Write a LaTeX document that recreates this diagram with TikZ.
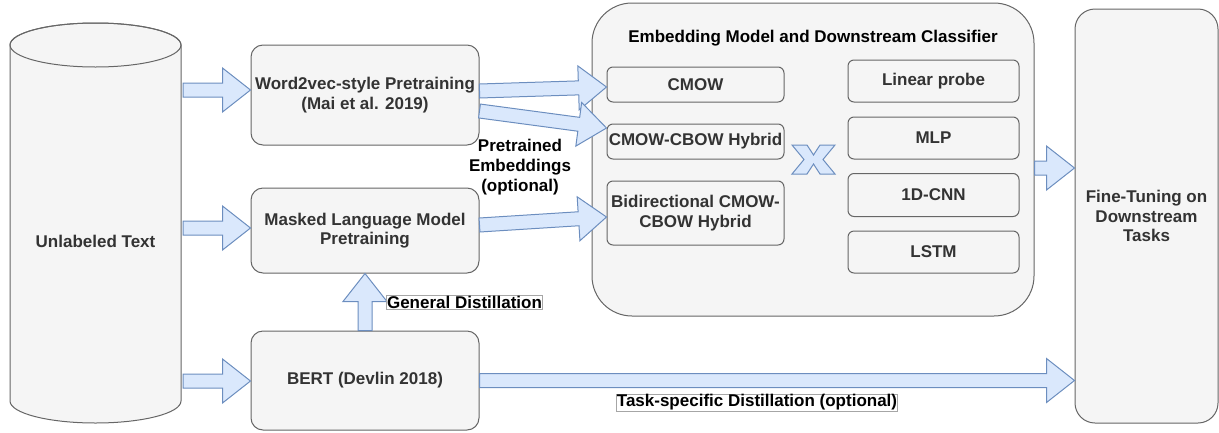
\documentclass[tikz,border=0pt]{standalone}
\usepackage{fontspec}
\setmainfont{Liberation Sans}
\usetikzlibrary{calc}
\definecolor{boxfill}{HTML}{F5F5F5}
\definecolor{boxline}{HTML}{666666}
\definecolor{boxtext}{HTML}{333333}
\definecolor{arrfill}{HTML}{DAE8FC}
\definecolor{arrline}{HTML}{6C8EBF}
\tikzset{
  box/.style={draw=boxline, fill=boxfill, line width=1pt, rounded corners=12pt, align=center,
    text=boxtext, font=\bfseries\fontsize{17}{19.5}\selectfont, inner sep=0pt},
  smallbox/.style={box, rounded corners=6pt},
  barrow/.style={draw=arrline, fill=arrfill, line width=1pt, line join=miter},
  lbl/.style={font=\bfseries\fontsize{17}{20}\selectfont, text=black, align=center, inner sep=1pt},
  lblbox/.style={lbl, draw=black!35, fill=white, line width=0.6pt, inner sep=0.5pt}
}
\newcommand\fatarrow[2]{%
  \draw[barrow] ($(#1)!7pt!90:(#2)$)
    -- ($(#2)!28pt!(#1)!7pt!-90:(#1)$)
    -- ($(#2)!28pt!(#1)!22pt!-90:(#1)$)
    -- (#2)
    -- ($(#2)!28pt!(#1)!22pt!90:(#1)$)
    -- ($(#2)!28pt!(#1)!7pt!90:(#1)$)
    -- ($(#1)!7pt!-90:(#2)$) -- cycle;}
\begin{document}
\begin{tikzpicture}[x=1pt, y=-1pt]
\useasboundingbox (0,0) rectangle (1219,432);
% cylinder
\filldraw[draw=boxline, fill=boxfill, line width=1pt]
  (10,45) -- (10,401) arc[start angle=180, end angle=360, x radius=85.5pt, y radius=22pt]
  -- (181,45) arc[start angle=0, end angle=180, x radius=85.5pt, y radius=22pt] -- cycle;
\draw[boxline, line width=1pt] (95.5,45) ellipse[x radius=85.5pt, y radius=22pt];
\node[lbl, text=boxtext] (ut) at (95.5,241) {Unlabeled Text};
% left column boxes
\node[box, minimum width=228pt, minimum height=100pt] (w2v) at (365,95)
  {Word2vec-style Pretraining\\(Mai et al. 2019)};
\node[box, minimum width=228pt, minimum height=85pt] (mlm) at (365,230.5)
  {Masked Language Model\\Pretraining};
\node[box, minimum width=228pt, minimum height=99pt] (bert) at (365,380.5)
  {BERT (Devlin 2018)};
% container
\node[box, rounded corners=40pt, minimum width=442pt, minimum height=313pt] (cont) at (813,159.5) {};
\node[lbl, text=black] (title) at (813,38) {Embedding Model and Downstream Classifier};
\node[smallbox, minimum width=177pt, minimum height=35pt] (cmow) at (695.5,84.5) {CMOW};
\node[smallbox, minimum width=177pt, minimum height=35pt] (hyb) at (695.5,141.5) {CMOW-CBOW Hybrid};
\node[smallbox, minimum width=177pt, minimum height=64pt] (bidir) at (695.5,213)
  {Bidirectional CMOW-\\CBOW Hybrid};
\node[smallbox, minimum width=171pt, minimum height=42pt] (lin) at (933.5,81) {Linear probe};
\node[smallbox, minimum width=171pt, minimum height=42pt] (mlp) at (933.5,138) {MLP};
\node[smallbox, minimum width=171pt, minimum height=43pt] (cnn) at (933.5,195) {1D-CNN};
\node[smallbox, minimum width=171pt, minimum height=42pt] (lstm) at (933.5,252) {LSTM};
% cross shape
\filldraw[draw=arrline, fill=arrfill, line width=1pt, shift={(792,145)}]
  (0,0) -- (15,0) -- (21.5,10) -- (28,0) -- (43,0) -- (31,14.5) -- (43,29) -- (28,29)
  -- (21.5,19) -- (15,29) -- (0,29) -- (12,14.5) -- cycle;
% fine tuning
\node[box, rounded corners=20pt, minimum width=143pt, minimum height=414pt] (fine) at (1146.5,216)
  {Fine-Tuning on\\Downstream\\Tasks};
% arrow end points
\coordinate (c1) at (183,90);
\coordinate (c2) at (183,228);
\coordinate (c3) at (183,381);
\coordinate (t1) at (c1 -| w2v.west);
\coordinate (t2) at (c2 -| mlm.west);
\coordinate (t3) at (c3 -| bert.west);
\coordinate (a4s) at ($(w2v.east)+(0,-4)$);
\coordinate (a4e) at ($(cmow.west)+(0,2.5)$);
\coordinate (a5s) at ($(w2v.east)+(0,16)$);
\coordinate (a5e) at ($(hyb.west)+(0,-13.5)$);
\coordinate (a6s) at ($(mlm.east)+(0,-5.5)$);
\coordinate (a6e) at ($(bidir.west)+(0,4)$);
\coordinate (a7s) at ($(cont.east)+(0,8.5)$);
\coordinate (a7e) at (a7s -| fine.west);
\coordinate (a8e) at (bert.east -| fine.west);
\fatarrow{c1}{t1}
\fatarrow{c2}{t2}
\fatarrow{c3}{t3}
\fatarrow{a4s}{a4e}
\fatarrow{a5s}{a5e}
\fatarrow{a6s}{a6e}
\fatarrow{a7s}{a7e}
\fatarrow{bert.east}{a8e}
\fatarrow{bert.north}{mlm.south}
% labels
\node[lbl] (pe) at (520,167) {Pretrained\\Embeddings\\(optional)};
\node[lblbox] (gd) at (464.5,302.5) {General Distillation};
\node[lblbox] (td) at (757,402.5) {Task-specific Distillation (optional)};
\end{tikzpicture}
\end{document}
